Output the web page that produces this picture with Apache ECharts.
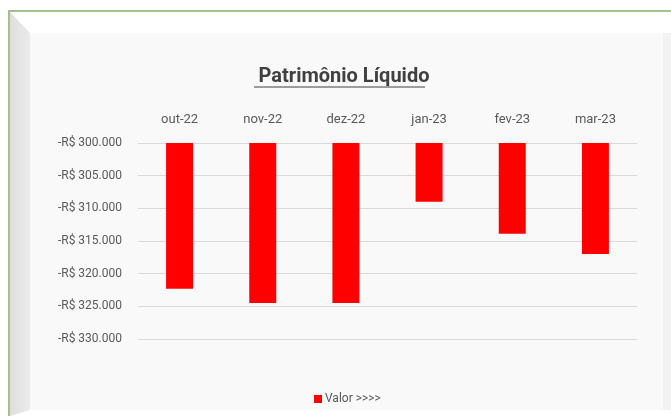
<!DOCTYPE html>
<html>
<head>
<meta charset="utf-8">
<script src="https://cdn.jsdelivr.net/npm/echarts@6/dist/echarts.min.js"></script>
<style>
  html, body { margin: 0; padding: 0; background: #fff; }
  #chart { width: 671px; height: 416px; }
</style>
</head>
<body>
<div id="chart"></div>
<script>
const months = ['out-22', 'nov-22', 'dez-22', 'jan-23', 'fev-23', 'mar-23'];
const valores = [-322300, -324500, -324500, -309000, -313900, -317000];
const seriesName = 'Valor >>>>';
const chartTitle = 'Patrimônio Líquido';

const fmtBRL = v => {
    const abs = Math.abs(v).toString().replace(/\B(?=(\d{3})+(?!\d))/g, '.');
    return (v < 0 ? '-' : '') + 'R$ ' + abs;
};

const chart = echarts.init(document.getElementById('chart'));
chart.setOption({
    backgroundColor: '#ffffff',
    textStyle: { fontFamily: 'Roboto' },
    graphic: [
        // moldura verde + painel cinza
        { type: 'rect', z: -10, shape: { x: 9, y: 11, width: 680, height: 420 },
          style: { fill: '#ffffff', stroke: '#a6bf90', lineWidth: 2 } },
        { type: 'polygon', z: -9, shape: { points: [[10, 12], [30, 33], [30, 410], [10, 416]] },
          style: { fill: { type: 'linear', x: 0, y: 0, x2: 1, y2: 0,
              colorStops: [{ offset: 0, color: '#dedede' }, { offset: 1, color: '#ebebeb' }] } } },
        { type: 'rect', z: -9, shape: { x: 30, y: 33, width: 633, height: 377 },
          style: { fill: '#f9f9f9' } },
        { type: 'rect', z: -9, shape: { x: 663, y: 33, width: 8, height: 377 },
          style: { fill: '#f2f2f2' } },
        // sublinhado do título
        { type: 'line', z: 5, shape: { x1: 254, y1: 87, x2: 425, y2: 87 },
          style: { stroke: '#404040', lineWidth: 1.2 } }
    ],
    title: {
        text: chartTitle,
        left: 339, top: 62, textAlign: 'center',
        textStyle: { fontSize: 20, fontWeight: 'bold', color: '#404040', fontFamily: 'Roboto' }
    },
    legend: {
        data: [seriesName],
        left: 309, top: 388,
        icon: 'rect', itemWidth: 8, itemHeight: 8, itemGap: 4,
        textStyle: { fontSize: 12, color: '#595959', padding: [0, 0, 0, -2] }
    },
    grid: { left: 138, right: 34, top: 143, bottom: 77 },
    xAxis: {
        type: 'category',
        position: 'top',
        data: months,
        axisLine: { show: false },
        axisTick: { show: false },
        axisLabel: { fontSize: 13, color: '#595959', margin: 17 }
    },
    yAxis: {
        type: 'value',
        min: -330000, max: -300000, interval: 5000,
        axisLine: { show: false },
        axisTick: { show: false },
        splitLine: { lineStyle: { color: '#d9d9d9', width: 1 } },
        axisLabel: { fontSize: 12, color: '#595959', margin: 16, formatter: fmtBRL }
    },
    series: [{
        name: seriesName,
        type: 'bar',
        data: valores,
        barWidth: 27,
        clip: true,
        itemStyle: { color: '#ff0000' }
    }]
});
</script>
</body>
</html>
